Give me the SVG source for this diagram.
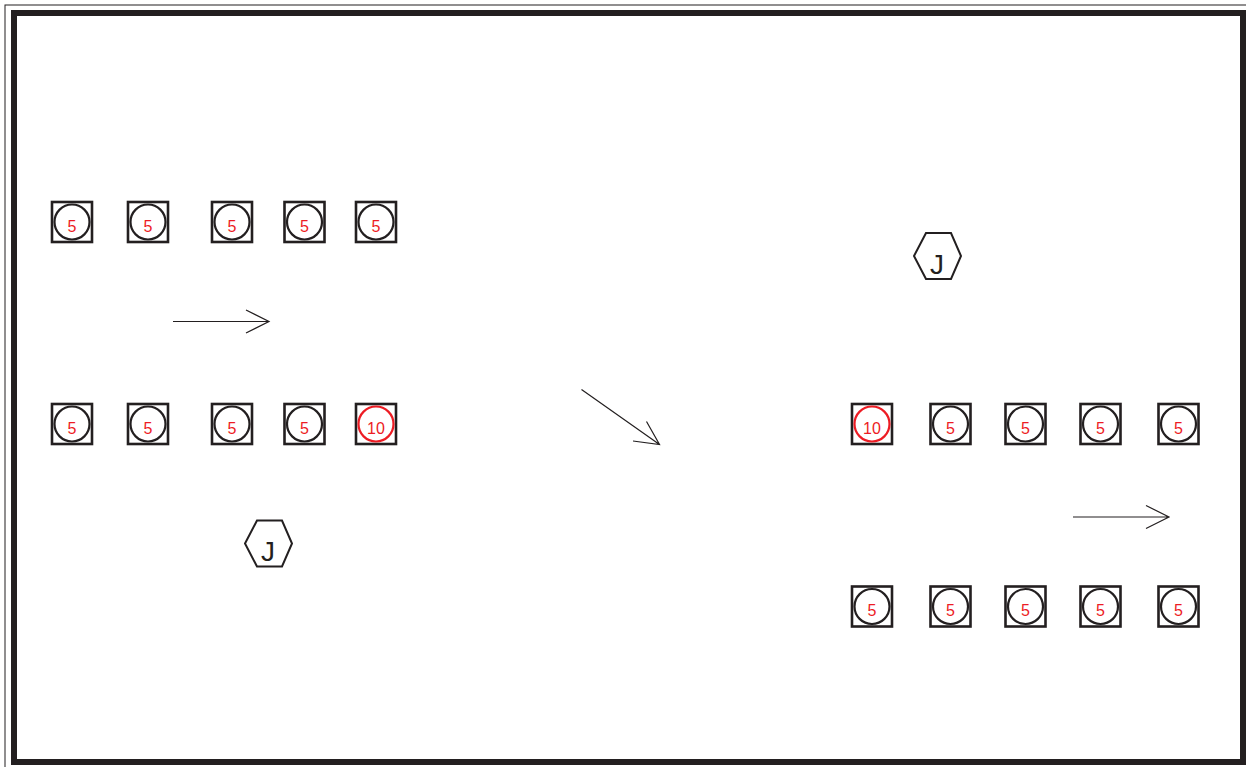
<svg xmlns="http://www.w3.org/2000/svg" width="1246" height="767" viewBox="0 0 1246 767">
<defs>
<style>
.sq{fill:#fff;stroke:#231f20;stroke-width:2.6}
.c{fill:none;stroke:#231f20;stroke-width:2.2}
.cr{fill:none;stroke:#ed1c24;stroke-width:2.2}
.t{font-family:"Liberation Sans",Arial,sans-serif;font-size:16px;fill:#ed1c24;text-anchor:middle}
.hx{fill:#fff;stroke:#231f20;stroke-width:2}
.j{font-family:"Liberation Sans",Arial,sans-serif;font-size:28px;fill:#231f20;text-anchor:middle}
.ar{fill:none;stroke:#231f20;stroke-width:1.2}
</style>
<g id="tok5"><rect class="sq" x="-20" y="-20" width="40" height="40"/><circle class="c" cx="0" cy="0" r="17.5"/><text class="t" x="0" y="9.5">5</text></g>
<g id="tok10"><rect class="sq" x="-20" y="-20" width="40" height="40"/><circle class="cr" cx="0" cy="0" r="17.5"/><text class="t" x="0" y="9.5">10</text></g>
<g id="hex"><polygon class="hx" points="-23,0 -11,-23 14,-23 24,0 14,23 -11,23"/><text class="j" x="0" y="17.5">J</text></g>
</defs>
<rect width="1246" height="767" fill="#fff"/>
<rect x="5" y="5" width="1250" height="770" fill="none" stroke="#231f20" stroke-width="1"/>
<rect x="14" y="13" width="1229" height="749" fill="none" stroke="#231f20" stroke-width="6"/>
<g id="n1"><use href="#tok5" x="72" y="222"/></g>
<g id="n2"><use href="#tok5" x="148" y="222"/></g>
<g id="n3"><use href="#tok5" x="232" y="222"/></g>
<g id="n4"><use href="#tok5" x="304.5" y="222"/></g>
<g id="n5"><use href="#tok5" x="376" y="222"/></g>
<g id="n6"><use href="#tok5" x="72" y="424"/></g>
<g id="n7"><use href="#tok5" x="148" y="424"/></g>
<g id="n8"><use href="#tok5" x="232" y="424"/></g>
<g id="n9"><use href="#tok5" x="304.5" y="424"/></g>
<g id="n10"><use href="#tok10" x="376" y="424"/></g>
<g id="hexL"><use href="#hex" x="268" y="543.5"/></g>
<g id="hexR"><use href="#hex" x="937" y="256"/></g>
<g id="n11"><use href="#tok10" x="872" y="424"/></g>
<g id="n12"><use href="#tok5" x="950.5" y="424"/></g>
<g id="n13"><use href="#tok5" x="1025.5" y="424"/></g>
<g id="n14"><use href="#tok5" x="1100.5" y="424"/></g>
<g id="n15"><use href="#tok5" x="1178.5" y="424"/></g>
<g id="n16"><use href="#tok5" x="872" y="606.5"/></g>
<g id="n17"><use href="#tok5" x="950.5" y="606.5"/></g>
<g id="n18"><use href="#tok5" x="1025.5" y="606.5"/></g>
<g id="n19"><use href="#tok5" x="1100.5" y="606.5"/></g>
<g id="n20"><use href="#tok5" x="1178.5" y="606.5"/></g>
<g id="connectors">
<path class="ar" d="M173,321.5 H269 M246,310 L269,321.5 L246,333"/>
<path class="ar" d="M581.5,389.5 L659.5,444.5 M646.5,421.5 L659.5,444.5 L633,441"/>
<path class="ar" d="M1073,517 H1169 M1146,505.5 L1169,517 L1146,528.5"/>
</g>
</svg>
